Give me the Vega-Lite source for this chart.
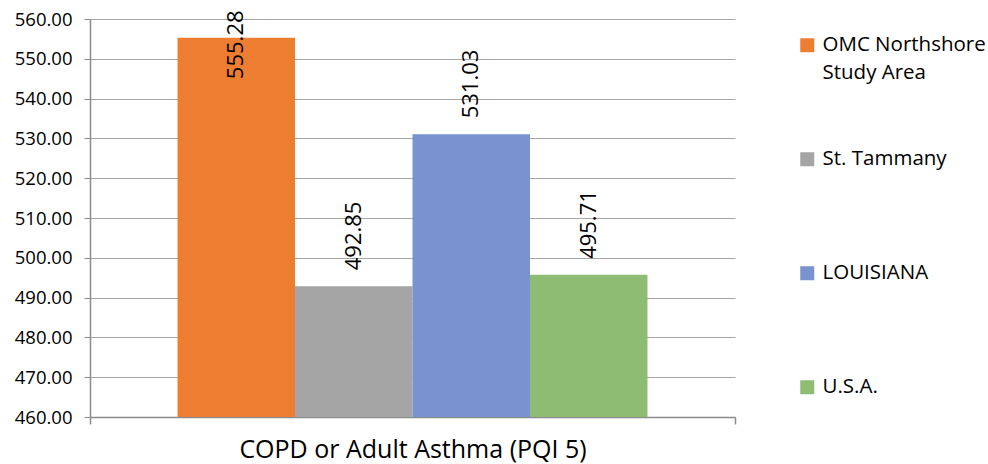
{
  "$schema": "https://vega.github.io/schema/vega-lite/v6.json",
  "width": 645,
  "height": 398,
  "autosize": {"type": "none"},
  "padding": {"left": 90, "top": 19, "right": 253, "bottom": 47},
  "config": {
    "font": "Open Sans",
    "view": {"stroke": null},
    "axis": {"labelFont": "Open Sans", "labelColor": "#000000"},
    "legend": {"labelFont": "Open Sans"}
  },
  "data": {
    "values": [
      {"measure": "COPD or Adult Asthma (PQI 5)", "area": "OMC Northshore Study Area", "value": 555.28},
      {"measure": "COPD or Adult Asthma (PQI 5)", "area": "St. Tammany", "value": 492.85},
      {"measure": "COPD or Adult Asthma (PQI 5)", "area": "LOUISIANA", "value": 531.03},
      {"measure": "COPD or Adult Asthma (PQI 5)", "area": "U.S.A.", "value": 495.71}
    ]
  },
  "encoding": {
    "x": {
      "field": "measure", "type": "nominal",
      "scale": {"paddingInner": 0, "paddingOuter": 0},
      "axis": {
        "title": null, "labelAngle": 0, "labelFontSize": 25, "labelPadding": 13, "labelLimit": 700,
        "tickBand": "extent", "tickSize": 7, "tickColor": "#8c8c8c", "tickWidth": 1.5,
        "domainColor": "#8c8c8c", "domainWidth": 1.5
      }
    },
    "xOffset": {
      "field": "area", "type": "nominal",
      "sort": ["OMC Northshore Study Area", "St. Tammany", "LOUISIANA", "U.S.A."],
      "scale": {"paddingInner": 0, "paddingOuter": 0.745}
    },
    "y": {
      "field": "value", "type": "quantitative",
      "scale": {"domain": [460, 560], "nice": false, "zero": false},
      "axis": {
        "title": null, "format": ".2f", "values": [460, 470, 480, 490, 500, 510, 520, 530, 540, 550, 560],
        "labelOverlap": false,
        "labelFontSize": 18.5, "labelPadding": 12, "tickSize": 6, "tickColor": "#8c8c8c",
        "domainColor": "#8c8c8c", "domainWidth": 1.5, "gridColor": "#a6a6a6", "gridWidth": 1.2
      }
    }
  },
  "layer": [
    {
      "mark": {"type": "bar", "clip": true},
      "encoding": {
        "color": {
          "field": "area", "type": "nominal",
          "sort": ["OMC Northshore Study Area", "St. Tammany", "LOUISIANA", "U.S.A."],
          "scale": {"range": ["#ED7D31", "#A5A5A5", "#7993D0", "#8FBC73"]},
          "legend": {
            "title": null, "orient": "none", "legendX": 707, "legendY": 16,
            "symbolType": "square", "symbolSize": 196, "symbolStrokeWidth": 0, "symbolOpacity": 1,
            "labelFontSize": 20.5, "labelColor": "#000000", "labelLimit": 200,
            "rowPadding": 65, "labelOffset": 5,
            "labelExpr": "datum.label == 'OMC Northshore Study Area' ? ['OMC Northshore', 'Study Area'] : [datum.label, '']",
            "encode": {"labels": {"update": {"lineHeight": {"value": 28}, "dy": {"value": 0}}}}
          }
        }
      }
    },
    {
      "transform": [{"filter": "datum.value < 550"}],
      "mark": {"type": "text", "angle": -90, "align": "left", "baseline": "middle", "dx": 16, "fontSize": 22, "color": "#000000"},
      "encoding": {"text": {"field": "value", "type": "quantitative", "format": ".2f"}}
    },
    {
      "transform": [{"filter": "datum.value >= 550"}],
      "mark": {"type": "text", "angle": -90, "align": "center", "baseline": "middle", "dx": -7, "fontSize": 22, "color": "#000000"},
      "encoding": {"text": {"field": "value", "type": "quantitative", "format": ".2f"}}
    }
  ]
}
